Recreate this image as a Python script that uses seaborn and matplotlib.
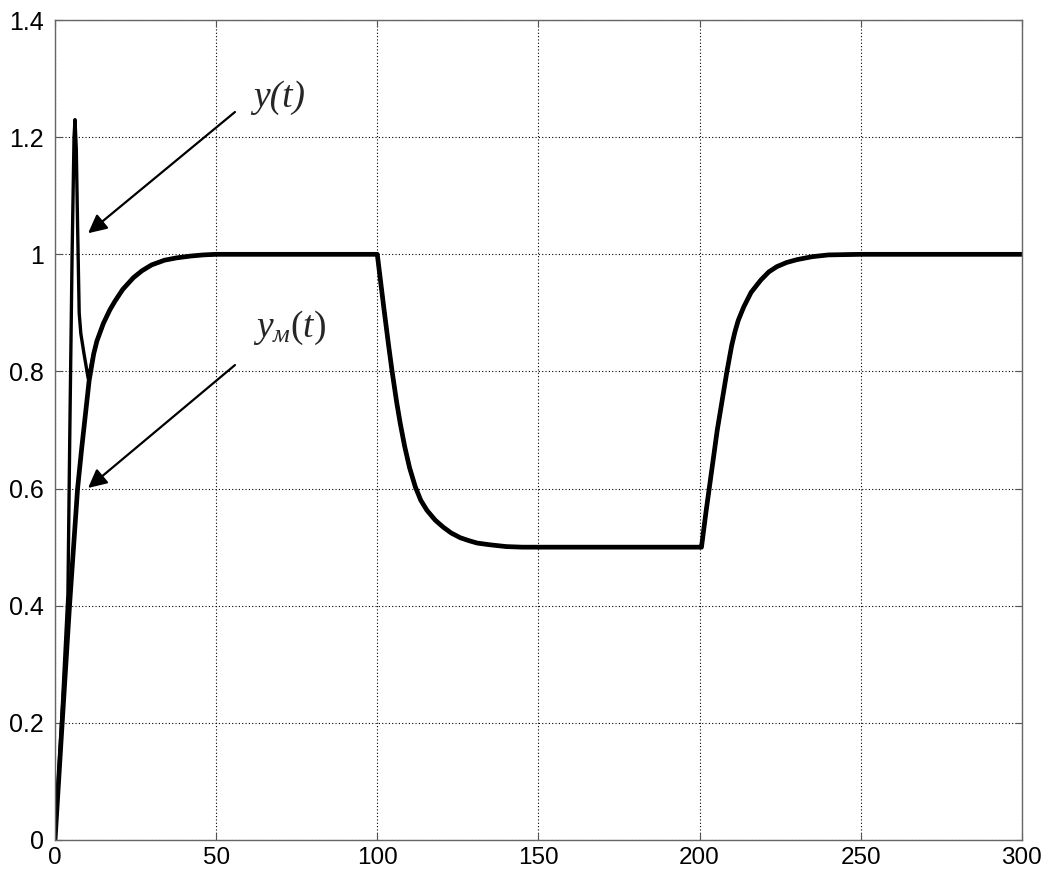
import matplotlib
matplotlib.use("Agg")
import matplotlib.pyplot as plt
import seaborn as sns

# модельный выход y_M(t), точки
t_model = [0, 2, 4.5, 7, 8.3, 9.5, 10.6, 12, 13, 15, 17, 18.6, 21, 24.3, 27, 30, 34,
           37.8, 42, 46, 50, 60, 80, 100,
           101, 102, 103.5, 104.6, 106, 107.1, 108.5, 110, 111.8, 113.5, 115.4, 118,
           120.5, 123, 125.8, 128.5, 131, 135, 140, 145, 150, 170, 200,
           200.6, 202, 203, 205.5, 208.5, 210, 211, 212, 213.7, 216, 219, 221.5, 224, 227,
           230.3, 235, 240, 250, 270, 300]
y_model = [0, 0.18, 0.4, 0.6, 0.67, 0.73, 0.785, 0.83, 0.852, 0.882, 0.905, 0.92, 0.94,
           0.96, 0.972, 0.982, 0.99, 0.994, 0.997, 0.999, 1.0, 1.0, 1.0, 1.0,
           0.955, 0.91, 0.845, 0.8, 0.748, 0.712, 0.672, 0.636, 0.603, 0.58, 0.563, 0.546,
           0.534, 0.524, 0.516, 0.511, 0.507, 0.504, 0.501, 0.5, 0.5, 0.5, 0.5,
           0.5, 0.56, 0.6, 0.7, 0.8, 0.845, 0.868, 0.887, 0.91, 0.935, 0.956, 0.97, 0.979,
           0.986, 0.991, 0.996, 0.999, 1.0, 1.0, 1.0]

# выход объекта y(t): начальный выброс, дальше совпадает с моделью
t_obj_start = [0, 2, 4, 4.6, 5.3, 5.9, 6.2, 6.6, 7.0, 7.5, 8.0, 9.0, 10.3]
y_obj_start = [0, 0.2, 0.42, 0.7, 1.0, 1.2, 1.23, 1.18, 1.05, 0.9, 0.865, 0.83, 0.788]

t_obj = t_obj_start + [t for t in t_model if t > 10.6]
y_obj = y_obj_start + [y for t, y in zip(t_model, y_model) if t > 10.6]

x_ticks = [0, 50, 100, 150, 200, 250, 300]
y_ticks = [0, 0.2, 0.4, 0.6, 0.8, 1, 1.2, 1.4]
y_tick_labels = ["0", "0.2", "0.4", "0.6", "0.8", "1", "1.2", "1.4"]

sns.set_style("white")
plt.rcParams['font.family'] = ['Liberation Sans', 'DejaVu Sans']
plt.rcParams['mathtext.fontset'] = 'custom'
plt.rcParams['mathtext.it'] = 'Liberation Serif:italic'
plt.rcParams['mathtext.rm'] = 'Liberation Serif'

fig = plt.figure(figsize=(10.48, 8.72), dpi=100)
ax = fig.add_axes([0.0525, 0.0367, 0.9225, 0.9403])

sns.lineplot(x=t_model, y=y_model, ax=ax, color="black", lw=3.4,
             estimator=None, sort=False)
sns.lineplot(x=t_obj, y=y_obj, ax=ax, color="black", lw=2.4,
             estimator=None, sort=False)

ax.set_xlim(0, 300)
ax.set_ylim(0, 1.4)
ax.set_xticks(x_ticks)
ax.set_yticks(y_ticks)
ax.set_yticklabels(y_tick_labels)
ax.tick_params(direction="in", length=5, width=0.8, colors="#555555",
               labelcolor="black", top=True, right=True,
               bottom=True, left=True)
ax.tick_params(axis="y", labelsize=18, pad=8)
ax.tick_params(axis="x", labelsize=17.5, pad=5)
ax.grid(True, linestyle=(0, (1, 2)), color="black", linewidth=0.8)
for s in ax.spines.values():
    s.set_color("#666666")
    s.set_linewidth(1.0)

# подписи со стрелками
ax.annotate("", xy=(9.6, 1.033), xytext=(56.5, 1.246),
            arrowprops=dict(arrowstyle="-|>", color="black", lw=1.6, mutation_scale=28))
ax.annotate("", xy=(9.6, 0.598), xytext=(56.5, 0.814),
            arrowprops=dict(arrowstyle="-|>", color="black", lw=1.6, mutation_scale=28))
ax.text(61.5, 1.251, "y(t)", fontsize=27, family="Liberation Serif",
        style="italic", va="baseline", ha="left")
ax.text(61.5, 0.859, r"$y_{м}(t)$", fontsize=27, va="baseline", ha="left")

ax.set_xlabel("")
ax.set_ylabel("")
fig.savefig("out.png", dpi=100, facecolor="white")
